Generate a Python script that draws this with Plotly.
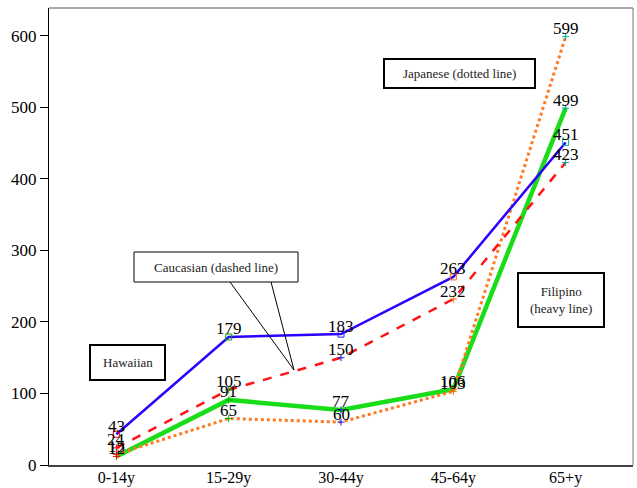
import plotly.graph_objects as go

# Age groups and rates by ethnic group
age_groups = ["0-14y", "15-29y", "30-44y", "45-64y", "65+y"]
hawaiian = [43, 179, 183, 263, 451]
caucasian = [24, 105, 150, 232, 423]
filipino = [12, 91, 77, 106, 499]
japanese = [15, 65, 60, 103, 599]
y_ticks = [0, 100, 200, 300, 400, 500, 600]

point_colors = ["#ff0000", "#00b000", "#2020ff", "#ff6a00", "#00b0a0"]
SERIF = "Liberation Serif"

x_idx = list(range(len(age_groups)))

fig = go.Figure()
value_labels = []


def add_series(values, color, width, dash, symbol, msize):
    fig.add_trace(go.Scatter(
        x=x_idx, y=values,
        mode="lines+markers",
        line=dict(color=color, width=width, dash=dash),
        marker=dict(symbol=symbol, size=msize, color=point_colors,
                    line=dict(color=point_colors, width=1)),
        showlegend=False,
        cliponaxis=False,
    ))
    for xi, v in zip(x_idx, values):
        value_labels.append(dict(x=xi, y=v, xref="x", yref="y", text=str(v),
                                 showarrow=False, xanchor="center",
                                 yanchor="middle", yshift=8,
                                 font=dict(family=SERIF, size=17, color="black")))


add_series(filipino, "#19dd19", 4.5, "solid", "cross-thin", 5)
add_series(japanese, "#ff7a22", 3, "dot", "cross-thin", 5)
add_series(caucasian, "#ff1414", 2.5, "dash", "cross-thin", 5)
add_series(hawaiian, "#2e00ff", 2.5, "solid", "square-open", 6)

# plot area in pixels: x 49..633, y 8..465
L, R, T, B = 49, 633, 8, 465


def px(x):
    return (x - L) / (R - L)


def py(y):
    return (B - y) / (B - T)


shapes = []
annotations = []


def label_box(x0, y0, x1, y1, text, lw):
    shapes.append(dict(type="rect", xref="paper", yref="paper",
                       x0=px(x0), x1=px(x1), y0=py(y1), y1=py(y0),
                       line=dict(color="black", width=lw),
                       fillcolor="white", layer="above"))
    annotations.append(dict(xref="paper", yref="paper",
                            x=px((x0 + x1) / 2), y=py((y0 + y1) / 2),
                            text=text, showarrow=False,
                            xanchor="center", yanchor="middle",
                            font=dict(family=SERIF, size=13, color="#222222")))


label_box(90, 345, 165, 380, "Hawaiian", 2)
label_box(384, 59, 535, 88, "Japanese (dotted line)", 2)
label_box(518, 273, 604, 327, "Filipino<br>(heavy line)", 2)

# Caucasian callout with pointer
shapes.append(dict(type="path", xref="paper", yref="paper",
                   path=f"M {px(230)} {py(282)} L {px(294)} {py(370)} L {px(271)} {py(282)}",
                   line=dict(color="black", width=1), layer="above"))
label_box(134, 252, 298, 282, "Caucasian (dashed line)", 1)

# frame on top and right
shapes.append(dict(type="line", xref="paper", yref="paper", x0=0, x1=1, y0=1, y1=1,
                   line=dict(color="#555555", width=1)))
shapes.append(dict(type="line", xref="paper", yref="paper", x0=1, x1=1, y0=0, y1=1,
                   line=dict(color="#777777", width=1)))

fig.update_layout(
    width=637, height=488,
    margin=dict(l=L, r=637 - R, t=T, b=488 - B),
    paper_bgcolor="white", plot_bgcolor="white",
    shapes=shapes, annotations=value_labels + annotations,
    xaxis=dict(range=[-0.6, 4.6], tickvals=x_idx, ticktext=age_groups,
               showgrid=False, zeroline=False, ticks="", automargin=False,
               ticklabelstandoff=-3,
               showline=True, linecolor="#444444", linewidth=2, mirror=False,
               tickfont=dict(family=SERIF, size=16, color="black")),
    yaxis=dict(range=[0, 639], tickvals=y_ticks, showgrid=False, automargin=False,
               zeroline=False, ticks="outside", ticklen=8, tickcolor="black",
               showline=True, linecolor="black", linewidth=1, mirror=False,
               tickfont=dict(family=SERIF, size=17, color="black")),
)

fig.write_html("out.html")
